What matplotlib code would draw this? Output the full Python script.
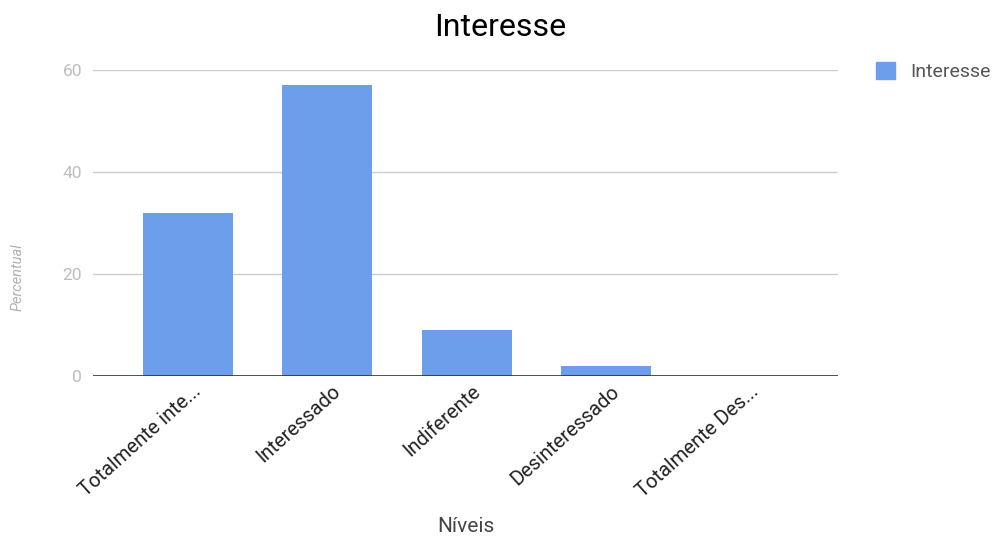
import matplotlib
matplotlib.use('Agg')
import matplotlib.pyplot as plt
import matplotlib.patches as mpatches
import matplotlib.transforms as mtransforms
import numpy as np

plt.rcParams['font.family'] = ['Roboto', 'DejaVu Sans']

categories = ['Totalmente inte...', 'Interessado', 'Indiferente', 'Desinteressado', 'Totalmente Des...']
values = [32, 57, 9, 2, 0]
yticks = [0, 20, 40, 60]

bar_color = '#6d9eeb'

fig = plt.figure(figsize=(9.92, 5.38), dpi=100)
ax = fig.add_axes([93/992, 1 - 376/538, (838-93)/992, (376-70)/538])

x = np.arange(len(categories))
ax.bar(x, values, width=0.645, color=bar_color, zorder=3)

ax.set_xlim(-0.68, 4.66)
ax.set_ylim(0, 60)
ax.set_yticks(yticks)
ax.set_yticklabels([str(t) for t in yticks], color='#bdbdbd', fontsize=12.5)
ax.tick_params(axis='y', length=0, pad=8)
ax.grid(axis='y', color='#cccccc', linewidth=1, zorder=0)
ax.axhline(0, color='#333333', linewidth=1.2, zorder=4)
for s in ax.spines.values():
    s.set_visible(False)

ax.set_xticks(x)
ax.set_xticklabels(categories, rotation=42, ha='right', va='top',
                   rotation_mode='anchor', fontsize=14.5, color='#222222')
ax.tick_params(axis='x', length=0, pad=4)
offset = mtransforms.ScaledTranslation(3/72, 0, fig.dpi_scale_trans)
for lbl in ax.get_xticklabels():
    lbl.set_transform(lbl.get_transform() + offset)

fig.text(500/992, 1 - 28/538, 'Interesse', ha='center', va='center', fontsize=23, color='#000000')
fig.text(466/992, 1 - 527/538, 'Níveis', ha='center', va='center', fontsize=15, color='#444444')
fig.text(18/992, 1 - 277/538, 'Percentual', ha='center', va='center', rotation=90,
         fontsize=10.5, color='#b0b0b0', style='italic')

handle = mpatches.Patch(color=bar_color, label='Interesse')
fig.legend(handles=[handle], loc='upper left', bbox_to_anchor=(858/992, 1 - 44/538),
           frameon=False, fontsize=14, handlelength=1.0, handleheight=1.0,
           labelcolor='#555555', handletextpad=0.8)

fig.savefig('out.png', dpi=100)
